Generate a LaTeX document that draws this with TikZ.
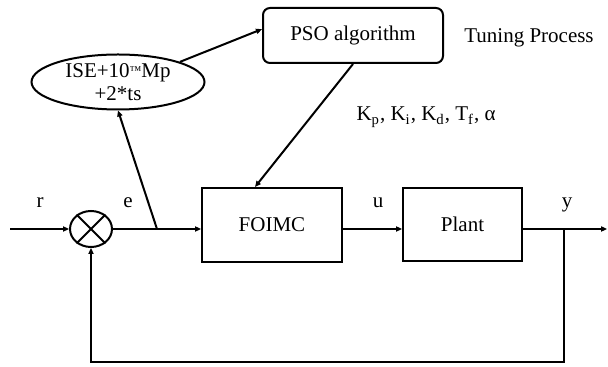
\documentclass[tikz,border=0pt]{standalone}
\usepackage{fontspec}
\setmainfont{Liberation Serif}
\usetikzlibrary{shapes.geometric,arrows.meta,calc}
\begin{document}
\begin{tikzpicture}[x=0.5pt,y=-0.5pt,
  every node/.style={font=\fontsize{10.5}{11.5}\selectfont},
  blk/.style={draw,line width=1pt,inner sep=0pt},
  wire/.style={line width=1pt},
  arr/.style={wire,-{Triangle[length=3pt,width=2.6pt]}},
  lbl/.style={inner sep=0pt,anchor=base}]
\useasboundingbox (0,0) rectangle (608,367);
% blocks
\node[blk,rounded corners=3.5pt,minimum width=90pt,minimum height=27.5pt] (pso) at (353,35.5) {PSO algorithm};
\node[blk,ellipse,minimum width=86.5pt,minimum height=27.5pt,align=center] (ell) at (118,82) {ISE+10\raisebox{1.5pt}{\fontsize{6}{6}\selectfont ™}Mp\\+2*ts};
\node[blk,minimum width=70pt,minimum height=37pt] (foimc) at (272,225) {FOIMC};
\node[blk,minimum width=59.5pt,minimum height=36.5pt] (plant) at (462.5,224.5) {Plant};
\node[blk,ellipse,minimum width=21pt,minimum height=18pt] (sum) at (91,229) {};
\draw[wire] (sum.45) -- (sum.225) (sum.135) -- (sum.315);
% labels
\node[lbl] (tp) at (529,43) {Tuning Process};
\node[lbl] (par) at (426,121) {K\textsubscript{p}, K\textsubscript{i}, K\textsubscript{d}, T\textsubscript{f}, α};
\node[lbl] (lr) at (40,208) {r};
\node[lbl] (le) at (128,208) {e};
\node[lbl] (lu) at (378,208) {u};
\node[lbl] (ly) at (567,208) {y};
% coordinates
\coordinate (in) at (10,229);
\coordinate (je) at (157,229);
\coordinate (jy) at (564,229);
\coordinate (out) at (607,229);
\coordinate (fb1) at (564,362);
\coordinate (fb2) at (91,362);
\coordinate (fin) at ($(foimc.north)+(-17,0)$);
% connectors
\draw[arr] (in) -- (sum.west);
\draw[arr] (sum.east) -- (foimc.west |- sum.east);
\draw[arr] (je) -- (ell.south);
\draw[arr] (ell.18) -- (pso.176);
\draw[arr] (pso.south) -- (fin);
\draw[arr] (foimc.east |- sum.east) -- (plant.west |- sum.east);
\draw[arr] (plant.east |- sum.east) -- (out);
\draw[arr] (jy) -- (fb1) -- (fb2) -- (sum.south);
\end{tikzpicture}
\end{document}
